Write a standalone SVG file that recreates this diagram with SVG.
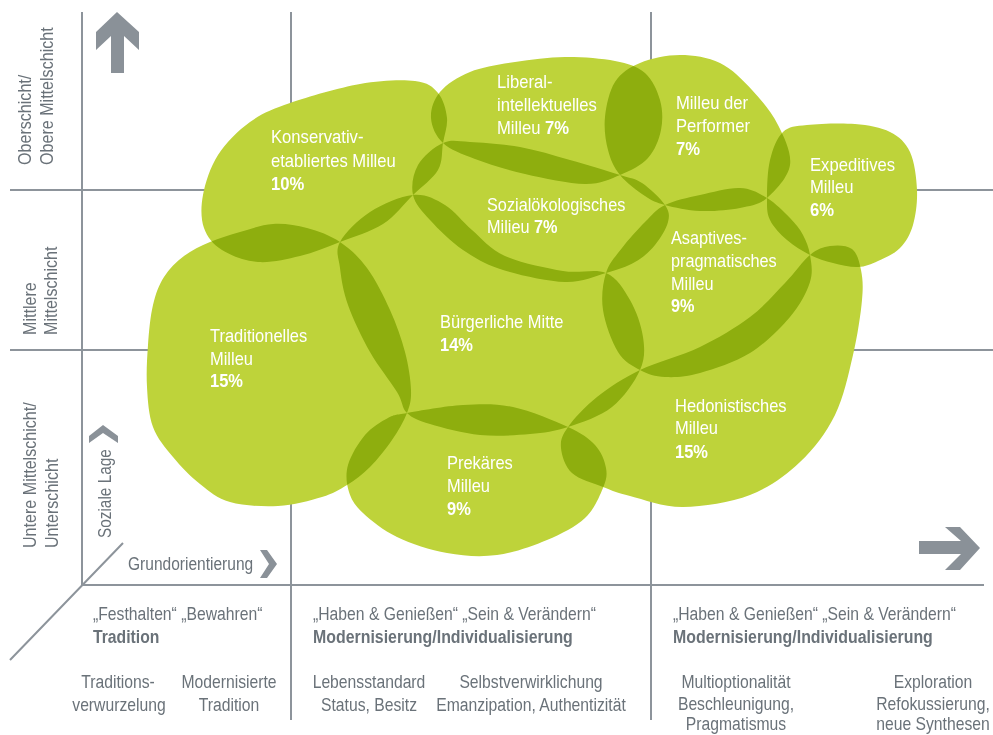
<svg xmlns="http://www.w3.org/2000/svg" width="993" height="735" viewBox="0 0 993 735">
<style>
.grid{stroke:#8d949b;stroke-width:2;fill:none}
.arrow{fill:#8a9198}
.blob{fill:#bed33a;mix-blend-mode:multiply}
.lbl{font-family:'Liberation Sans',Arial,sans-serif;font-size:18.5px;fill:#ffffff}
.ax{font-family:'Liberation Sans',Arial,sans-serif;font-size:18.5px;fill:#6a7279}
.b{font-weight:bold}
.mid{text-anchor:middle}
</style>
<rect width="993" height="735" fill="#ffffff"/>
<g id="axes">
  <path class="grid" d="M82,12V585 M291,12V720 M651,12V720 M10,190H993 M10,350H993 M82,585H984 M10,660L123,543"/>
  <polygon class="arrow" points="117,12 139,32 139,50 124,36 124,73 111,73 111,36 96,50 96,32"/>
  <polygon class="arrow" points="980,548 960,570 945,570 961,554 919,554 919,541 961,541 945,527 960,527"/>
  <polygon class="arrow" points="89,436 103,425 118,436 118,443 103,433 89,443"/>
  <polygon class="arrow" points="260,550 267,550 277,564 267,578 260,578 269,564"/>
</g>
<g id="axis-labels" class="ax">
  <text transform="translate(31,165) rotate(-90) scale(0.87,1)">Oberschicht/</text>
  <text transform="translate(53,165) rotate(-90) scale(0.87,1)">Obere Mittelschicht</text>
  <text transform="translate(36,335) rotate(-90) scale(0.87,1)">Mittlere</text>
  <text transform="translate(57,335) rotate(-90) scale(0.87,1)">Mittelschicht</text>
  <text transform="translate(36,548) rotate(-90) scale(0.87,1)">Untere Mittelschicht/</text>
  <text transform="translate(58,548) rotate(-90) scale(0.87,1)">Unterschicht</text>
  <text transform="translate(111,538) rotate(-90) scale(0.83,1)">Soziale Lage</text>
  <text transform="translate(128,570) scale(0.84,1)">Grundorientierung</text>
  <text transform="translate(93,620) scale(0.85,1)">„Festhalten“ „Bewahren“</text>
  <text transform="translate(93,643) scale(0.85,1)" class="b">Tradition</text>
  <text transform="translate(118,688) scale(0.85,1)" class="mid">Traditions-</text>
  <text transform="translate(119,711) scale(0.85,1)" class="mid">verwurzelung</text>
  <text transform="translate(229,688) scale(0.85,1)" class="mid">Modernisierte</text>
  <text transform="translate(229,711) scale(0.85,1)" class="mid">Tradition</text>
  <text transform="translate(313,620) scale(0.85,1)">„Haben &amp; Genießen“ „Sein &amp; Verändern“</text>
  <text transform="translate(313,643) scale(0.86,1)" class="b">Modernisierung/Individualisierung</text>
  <text transform="translate(369,688) scale(0.85,1)" class="mid">Lebensstandard</text>
  <text transform="translate(369,711) scale(0.85,1)" class="mid">Status, Besitz</text>
  <text transform="translate(531,688) scale(0.85,1)" class="mid">Selbstverwirklichung</text>
  <text transform="translate(531,711) scale(0.85,1)" class="mid">Emanzipation, Authentizität</text>
  <text transform="translate(673,620) scale(0.85,1)">„Haben &amp; Genießen“ „Sein &amp; Verändern“</text>
  <text transform="translate(673,643) scale(0.86,1)" class="b">Modernisierung/Individualisierung</text>
  <text transform="translate(736,688) scale(0.85,1)" class="mid">Multioptionalität</text>
  <text transform="translate(736,710) scale(0.85,1)" class="mid">Beschleunigung,</text>
  <text transform="translate(736,730) scale(0.85,1)" class="mid">Pragmatismus</text>
  <text transform="translate(933,688) scale(0.85,1)" class="mid">Exploration</text>
  <text transform="translate(933,710) scale(0.85,1)" class="mid">Refokussierung,</text>
  <text transform="translate(933,730) scale(0.85,1)" class="mid">neue Synthesen</text>
</g>
<g id="milieus" style="isolation:isolate">
  <g id="konservativ-etabliert">
    <path class="blob" d="M250,122 C262,113.3 271.7,109.3 290,103 S339.2,87.7 360,84 S402,79.5 415,81 S432.7,86.8 438,93 S446.2,109.7 447,118 S444.5,134.3 443,143 S443,161.3 438,170 S422.2,186 413,195 S395.2,216.2 383,224 S353.8,236.7 340,242 S313.7,252.7 300,256 S271,263 258,262 S231,255.7 222,250 S207.2,237.2 204,228 S200.7,207.2 203,195 S210.2,167.2 218,155 S238,130.7 250,122 Z"/>
    <text class="lbl" transform="translate(271,143) scale(0.9,1)">Konservativ-</text>
    <text class="lbl" transform="translate(271,167) scale(0.9,1)">etabliertes Milleu</text>
    <text class="lbl b" transform="translate(271,190) scale(0.9,1)">10%</text>
  </g>
  <g id="liberal-intellektuell">
    <path class="blob" d="M443,143 C435.7,136.2 431.5,126.5 431,118 S433.5,99.7 440,92 S457.5,77 470,72 S499.2,64.5 515,62 S548.3,57.2 565,57 S601.7,58.3 615,61 S637.5,66.5 645,73 S657.3,90.5 660,100 S663,120.3 661,130 S654.8,150.5 648,158 S630.5,170.7 620,175 S600.8,184.2 585,184 S543.3,178.2 525,174 S488.7,164.2 475,159 S450.3,149.8 443,143 Z"/>
    <text class="lbl" transform="translate(497,88) scale(0.9,1)">Liberal-</text>
    <text class="lbl" transform="translate(497,111) scale(0.9,1)">intellektuelles</text>
    <text class="lbl" transform="translate(497,134) scale(0.9,1)">Milleu <tspan class="b">7%</tspan></text>
  </g>
  <g id="performer">
    <path class="blob" d="M620,175 C613.8,167.3 610.5,159.7 608,150 S603.8,128.3 605,117 S609.2,91 615,82 S629.2,67.5 640,63 S666.7,55 680,55 S708,57.2 720,63 S742.3,79.7 752,90 S771.7,112.5 778,125 S791.8,152.8 790,165 S775.3,190.8 767,198 S751.2,205.8 740,208 S712.5,211.5 700,211 S674.2,207.5 665,205 S652.5,201 645,196 S626.2,182.7 620,175 Z"/>
    <text class="lbl" transform="translate(676,109) scale(0.9,1)">Milleu der</text>
    <text class="lbl" transform="translate(676,132) scale(0.9,1)">Performer</text>
    <text class="lbl b" transform="translate(676,155) scale(0.9,1)">7%</text>
  </g>
  <g id="expeditiv">
    <path class="blob" d="M783,132 C789.2,126.2 795,126.3 807,125 S841.2,122.8 855,124 S880.8,127.3 890,132 S905.5,142.3 910,152 S916.5,177.8 917,190 S915.8,215.3 913,225 S905.8,242 900,248 S885,257.8 878,261 S865.5,266.7 858,267 S841,265 833,263 S817.7,258.8 810,255 S793.7,245.8 787,240 S773.3,227 770,220 S767,208 767,198 S767.3,171 770,160 S776.8,137.8 783,132 Z"/>
    <text class="lbl" transform="translate(810,171) scale(0.9,1)">Expeditives</text>
    <text class="lbl" transform="translate(810,193) scale(0.9,1)">Milleu</text>
    <text class="lbl b" transform="translate(810,216) scale(0.9,1)">6%</text>
  </g>
  <g id="sozialoekologisch">
    <path class="blob" d="M443,143 C451.7,139.2 457.2,141.3 470,142 S503.3,144 520,147 S553.3,155.3 570,160 S608,171.2 620,175 S634.5,178 642,183 S660.7,198.5 665,205 S669.7,215.3 668,222 S660.5,238.3 655,245 S643.2,257.3 635,262 S617.7,269.7 606,273 S582.2,282.5 565,282 S520,275.3 503,270 S475.2,258.3 463,250 S438.3,229.2 430,220 S415,204.2 413,195 S413,173.7 418,165 S434.3,146.8 443,143 Z"/>
    <text class="lbl" transform="translate(487,211) scale(0.88,1)">Sozialökologisches</text>
    <text class="lbl" transform="translate(487,233) scale(0.88,1)">Milieu <tspan class="b">7%</tspan></text>
  </g>
  <g id="adaptiv-pragmatisch">
    <path class="blob" d="M665,205 C674.2,200.5 687.5,197.8 700,195 S728.8,187.5 740,188 S758.7,193 767,198 S784,211.8 790,218 S799.7,228.8 803,235 S808.8,247.2 810,255 S813.3,271.7 810,282 S800,305.2 790,317 S765,343.7 750,353 S714.2,369 700,373 S675,377.5 665,377 S647.8,374.2 640,370 S624.2,362 618,352 S605,323.2 603,310 S602.8,283.3 606,273 S615.5,256.5 622,248 S637.8,229.2 645,222 S655.8,209.5 665,205 Z"/>
    <text class="lbl" transform="translate(671,244) scale(0.88,1)">Asaptives-</text>
    <text class="lbl" transform="translate(671,267) scale(0.88,1)">pragmatisches</text>
    <text class="lbl" transform="translate(671,290) scale(0.88,1)">Milleu</text>
    <text class="lbl b" transform="translate(671,312) scale(0.88,1)">9%</text>
  </g>
  <g id="buergerliche-mitte">
    <path class="blob" d="M340,242 C345,232.7 357.8,219.8 370,212 S400.5,196.2 413,195 S435.2,199.2 445,205 S462,221.5 472,230 S489.8,249.2 505,256 S546.2,268.2 563,271 S594.8,268.2 606,273 S623.8,289.3 630,300 S641.3,325.3 643,337 S645.2,358.3 640,370 S624,397.5 612,407 S581.7,422.5 568,427 S544.7,432.7 530,434 S496.7,436.7 480,435 S442.2,427.7 430,424 S412.5,418.3 407,413 S403.2,402.2 397,392 S378.2,366.5 370,352 S353,319 348,305 S341.3,278.5 340,268 S335,251.3 340,242 Z"/>
    <text class="lbl" transform="translate(440,328) scale(0.89,1)">Bürgerliche Mitte</text>
    <text class="lbl b" transform="translate(440,351) scale(0.89,1)">14%</text>
  </g>
  <g id="traditionell">
    <path class="blob" d="M210,242 C219.3,238 229.5,235 240,232 S261.8,224.7 273,224 S295.8,225 307,228 S330,235.3 340,242 S358.7,256.7 367,268 S383.7,296 390,310 S401.5,338.7 405,352 S410.7,379.8 411,390 S410.2,404.7 407,413 S398.2,431 392,440 S377.5,459.5 370,467 S355,480 347,485 S333.5,493.5 322,497 S293.3,505.2 278,506 S243,505.7 230,502 S209.5,491.5 200,484 S180.8,466.5 173,457 S157.3,438.7 153,427 S147.8,400.7 147,387 S147,358.7 148,345 S150.3,316.3 153,305 S158.8,285.2 164,277 S176.3,261.8 184,256 S200.7,246 210,242 Z"/>
    <text class="lbl" transform="translate(210,342) scale(0.89,1)">Traditionelles</text>
    <text class="lbl" transform="translate(210,365) scale(0.89,1)">Milleu</text>
    <text class="lbl b" transform="translate(210,387) scale(0.89,1)">15%</text>
  </g>
  <g id="prekaer">
    <path class="blob" d="M407,413 C419.5,410.8 445.3,406 463,405 S495.5,403.3 513,407 S554.3,420.7 568,427 S588.7,438.2 595,445 S604.7,460.8 606,468 S606.5,479.7 603,488 S594.3,509.3 585,518 S561.7,533.8 547,540 S513.7,552.8 497,555 S463.7,556 447,553 S411,543.7 397,537 S371,520.5 363,513 S351.5,500 349,492 S345.3,474.5 348,465 S358.3,442.8 365,435 S381,421.7 388,418 S394.5,415.2 407,413 Z"/>
    <text class="lbl" transform="translate(447,469) scale(0.89,1)">Prekäres</text>
    <text class="lbl" transform="translate(447,492) scale(0.89,1)">Milleu</text>
    <text class="lbl b" transform="translate(447,515) scale(0.89,1)">9%</text>
  </g>
  <g id="hedonistisch">
    <path class="blob" d="M640,370 C657.2,361.7 681.7,355.8 700,347 S735.8,327.7 750,317 S775,293.3 785,283 S802.5,261.2 810,255 S823,247 830,246 S846.8,245 852,249 S859.3,261.5 861,270 S863.3,285.8 862,300 S857.5,335.8 853,355 S843.8,397.2 835,415 S814.2,448.7 800,462 S769.5,487.5 750,495 S703,506.8 683,507 S643.3,499.3 630,496 S612.7,490.8 603,487 S579,479.5 572,473 S561.7,455.7 561,448 S562,435.5 568,427 S585,406.5 597,397 S622.8,378.3 640,370 Z"/>
    <text class="lbl" transform="translate(675,412) scale(0.89,1)">Hedonistisches</text>
    <text class="lbl" transform="translate(675,434) scale(0.89,1)">Milleu</text>
    <text class="lbl b" transform="translate(675,458) scale(0.89,1)">15%</text>
  </g>
</g>
</svg>
